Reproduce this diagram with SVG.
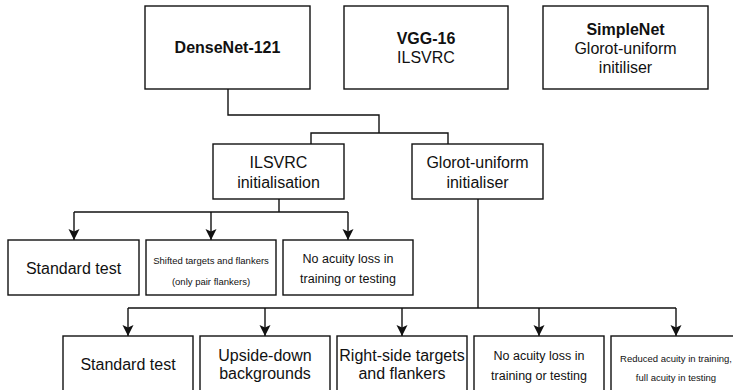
<svg xmlns="http://www.w3.org/2000/svg" width="733" height="390" viewBox="0 0 733 390">
<defs>
<style>
.box{fill:#fff;stroke:#111;stroke-width:1.4}
.ln{fill:none;stroke:#111;stroke-width:1.4}
text{font-family:"Liberation Sans",Arial,sans-serif;fill:#111;text-anchor:middle;dominant-baseline:central}
.b{font-weight:bold}
.t16{font-size:16px}
.t12{font-size:12.5px}
.t9{font-size:9.5px}
</style>
<marker id="ah" markerWidth="12" markerHeight="12" viewBox="0 0 12 12" refX="11" refY="6" orient="auto" markerUnits="userSpaceOnUse">
<path d="M0,0.5 L11,6 L0,11.5 L2.5,6 Z" fill="#111"/>
</marker>
</defs>
<rect width="733" height="390" fill="#fff"/>
<g id="connectors">
<path class="ln" d="M228,89 V115 H379 V133"/>
<path class="ln" d="M311,144 V133 H448 V144"/>
<path class="ln" d="M279,199 V212"/>
<path class="ln" d="M74,212 H348"/>
<path class="ln" d="M74,212 V240" marker-end="url(#ah)"/>
<path class="ln" d="M211,212 V240" marker-end="url(#ah)"/>
<path class="ln" d="M348,212 V240" marker-end="url(#ah)"/>
<path class="ln" d="M478,199 V308"/>
<path class="ln" d="M128,308 H676"/>
<path class="ln" d="M128,308 V336" marker-end="url(#ah)"/>
<path class="ln" d="M265,308 V336" marker-end="url(#ah)"/>
<path class="ln" d="M402,308 V336" marker-end="url(#ah)"/>
<path class="ln" d="M539,308 V336" marker-end="url(#ah)"/>
<path class="ln" d="M676,308 V336" marker-end="url(#ah)"/>
</g>
<g id="densenet"><rect class="box" x="145" y="6" width="165" height="83"/><text class="t16 b" x="227.5" y="47.5">DenseNet-121</text></g>
<g id="vgg"><rect class="box" x="344" y="6" width="164" height="83"/><text class="t16 b" x="426" y="38">VGG-16</text><text class="t16" x="426" y="57">ILSVRC</text></g>
<g id="simplenet"><rect class="box" x="543" y="6" width="165" height="83"/><text class="t16 b" x="625.5" y="29">SimpleNet</text><text class="t16" x="625.5" y="48">Glorot-uniform</text><text class="t16" x="625.5" y="67">initiliser</text></g>
<g id="ilsvrc"><rect class="box" x="213" y="144" width="131" height="55"/><text class="t16" x="278.5" y="162">ILSVRC</text><text class="t16" x="278.5" y="182">initialisation</text></g>
<g id="glorot"><rect class="box" x="412" y="144" width="131" height="55"/><text class="t16" x="477.5" y="162">Glorot-uniform</text><text class="t16" x="477.5" y="182">initialiser</text></g>
<g id="a1"><rect class="box" x="8" y="240" width="131" height="55"/><text class="t16" x="73.5" y="268">Standard test</text></g>
<g id="a2"><rect class="box" x="146" y="240" width="130" height="55"/><text class="t9" x="211" y="260">Shifted targets and flankers</text><text class="t9" x="211" y="281">(only pair flankers)</text></g>
<g id="a3"><rect class="box" x="283" y="240" width="130" height="55"/><text class="t12" x="348" y="259">No acuity loss in</text><text class="t12" x="348" y="279">training or testing</text></g>
<g id="b1"><rect class="box" x="63" y="336" width="130" height="55"/><text class="t16" x="128" y="364">Standard test</text></g>
<g id="b2"><rect class="box" x="200" y="336" width="130" height="55"/><text class="t16" x="265" y="355">Upside-down</text><text class="t16" x="265" y="373">backgrounds</text></g>
<g id="b3"><rect class="box" x="337" y="336" width="130" height="55"/><text class="t16" x="402" y="355">Right-side targets</text><text class="t16" x="402" y="373">and flankers</text></g>
<g id="b4"><rect class="box" x="474" y="336" width="130" height="55"/><text class="t12" x="539" y="356">No acuity loss in</text><text class="t12" x="539" y="376">training or testing</text></g>
<g id="b5"><rect class="box" x="611" y="336" width="130" height="55"/><text class="t9" x="676" y="358">Reduced acuity in training,</text><text class="t9" x="676" y="377">full acuity in testing</text></g>
</svg>
